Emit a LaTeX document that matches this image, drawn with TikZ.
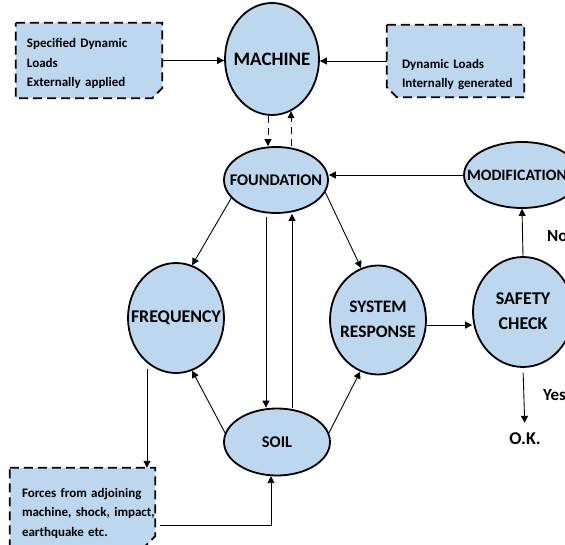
\documentclass[tikz,border=0pt]{standalone}
\usepackage{fontspec}
\setmainfont{Carlito}
\usetikzlibrary{arrows.meta,shapes.geometric,calc}
\definecolor{fillblue}{HTML}{BDD7EE}
\pgfdeclarelayer{background}
\pgfsetlayers{background,main}
\newcommand{\zw}[1]{\makebox[0pt]{#1}}
\newcommand{\zwtwo}[2]{\makebox[0pt]{\begin{tabular}{@{}c@{}}#1\\#2\end{tabular}}}
\begin{document}
\begin{tikzpicture}[x=1pt,y=-1pt,
  oval/.style={ellipse, draw=black, line width=1.8pt, fill=fillblue, inner sep=0pt},
  arr/.style={-{Triangle[length=7pt,width=7pt]}, line width=0.9pt},
  dasharr/.style={arr, dash pattern=on 7pt off 5pt},
  boxtext/.style={rectangle, inner sep=0pt, align=left, font=\bfseries\fontsize{13}{19.5}\selectfont},
  boxline/.style={draw=black, line width=1.8pt, dash pattern=on 9pt off 5pt, fill=fillblue},
  lab/.style={font=\bfseries\fontsize{17}{20}\selectfont, inner sep=0pt}
]
\useasboundingbox (0,0) rectangle (565,545);
\clip (0,0) rectangle (565,545);

% ellipses
\node[oval, minimum width=94pt, minimum height=112pt, font=\bfseries\fontsize{19}{22}\selectfont] (machine) at (272,59) {\zw{MACHINE}};
\node[oval, minimum width=104pt, minimum height=66pt, font=\bfseries\fontsize{16.3}{20}\selectfont] (found) at (276,180) {\zw{FOUNDATION}};
\node[oval, minimum width=116pt, minimum height=66pt, font=\bfseries\fontsize{15.8}{20}\selectfont] (mod) at (522,175) {\zw{MODIFICATION\hspace{10pt}}};
\node[oval, minimum width=96pt, minimum height=110pt, font=\bfseries\fontsize{17.9}{22}\selectfont] (freq) at (176,318) {\zw{FREQUENCY}};
\node[oval, minimum width=96pt, minimum height=109pt, font=\bfseries\fontsize{17.5}{25}\selectfont] (sr) at (378,320) {\zwtwo{SYSTEM}{RESPONSE}};
\node[oval, minimum width=100pt, minimum height=110pt, font=\bfseries\fontsize{18}{25}\selectfont] (sc) at (523,312) {\zwtwo{SAFETY}{CHECK}};
\node[oval, minimum width=106pt, minimum height=67pt, font=\bfseries\fontsize{16.4}{20}\selectfont] (soil) at (277,442) {\zw{SOIL}};

% boxes
\node[boxtext, minimum width=146pt, minimum height=75pt, text width=124pt] (lbox) at (89,60.5)
  {\rule{0pt}{16pt}\mbox{Specified Dynamic}\\\mbox{Loads}\\\mbox{Externally applied}};
\node[boxtext, minimum width=137pt, minimum height=72pt, text width=107pt] (rbox) at (455.5,61)
  {\rule{0pt}{36pt}\mbox{Dynamic Loads}\\\mbox{Internally generated}};
\node[boxtext, minimum width=145pt, minimum height=80pt, text width=121pt] (bbox) at (82.5,508)
  {\rule{0pt}{20pt}\mbox{Forces from adjoining}\\\mbox{machine, shock, impact,}\\\mbox{earthquake etc.}};

\begin{pgfonlayer}{background}
\path[boxline] (lbox.north west) -- (lbox.north east) -- ([yshift=10pt]lbox.south east)
  -- ([xshift=-10pt]lbox.south east) -- (lbox.south west) -- cycle;
\path[boxline] (rbox.north west) -- (rbox.north east) -- (rbox.south east)
  -- ([xshift=10pt]rbox.south west) -- ([yshift=10pt]rbox.south west) -- cycle;
\path[boxline] (bbox.north west) -- (bbox.north east) -- ([yshift=12pt]bbox.south east)
  -- ([xshift=-12pt]bbox.south east) -- (bbox.south west) -- cycle;
\end{pgfonlayer}

% labels
\node[lab, font=\bfseries\fontsize{18}{20}\selectfont] (ok) at (525,439) {O.K.};
\node[lab, anchor=west] (no) at (547,236) {No};
\node[lab, anchor=west] (yes) at (543,395) {Yes};

% helper x positions
\coordinate (xd1) at (268,0);
\coordinate (xL) at (266,0);
\coordinate (xR) at (292,0);
\coordinate (xF) at (147,0);

% connectors
\draw[arr] (lbox.east) -- (lbox.east -| machine.west);
\draw[arr] (rbox.west) -- (rbox.west -| machine.east);
\draw[dasharr] (machine.south -| xd1) -- (found.north -| xd1);
\draw[dasharr] (found.north -| machine.-70) -- (machine.-70);
\draw[arr] (mod.west) -- (mod.west -| found.east);
\draw[arr] (found.-158) -- (freq.73);
\draw[arr] (found.-14) -- (sr.108);
\draw[arr, shorten <=3pt] (found.south -| xL) -- (soil.north -| xL);
\draw[arr] (soil.north -| xR) -- (found.south -| xR);
\draw[arr] (soil.170) -- (freq.-73);
\draw[arr] (soil.10) -- (sr.-109);
\draw[arr] (sr.-6) -- (sr.-6 -| sc.west);
\draw[arr] (sc.north) -- (mod.south);
\draw[arr, shorten <=5pt, shorten >=10pt] (sc.south) -- (ok.north);
\draw[arr, shorten <=-5pt] (freq.south -| xF) -- (bbox.north -| xF);
\draw[arr, shorten <=5pt] ([yshift=-17pt]bbox.east) -| (soil.-100);
\end{tikzpicture}
\end{document}
